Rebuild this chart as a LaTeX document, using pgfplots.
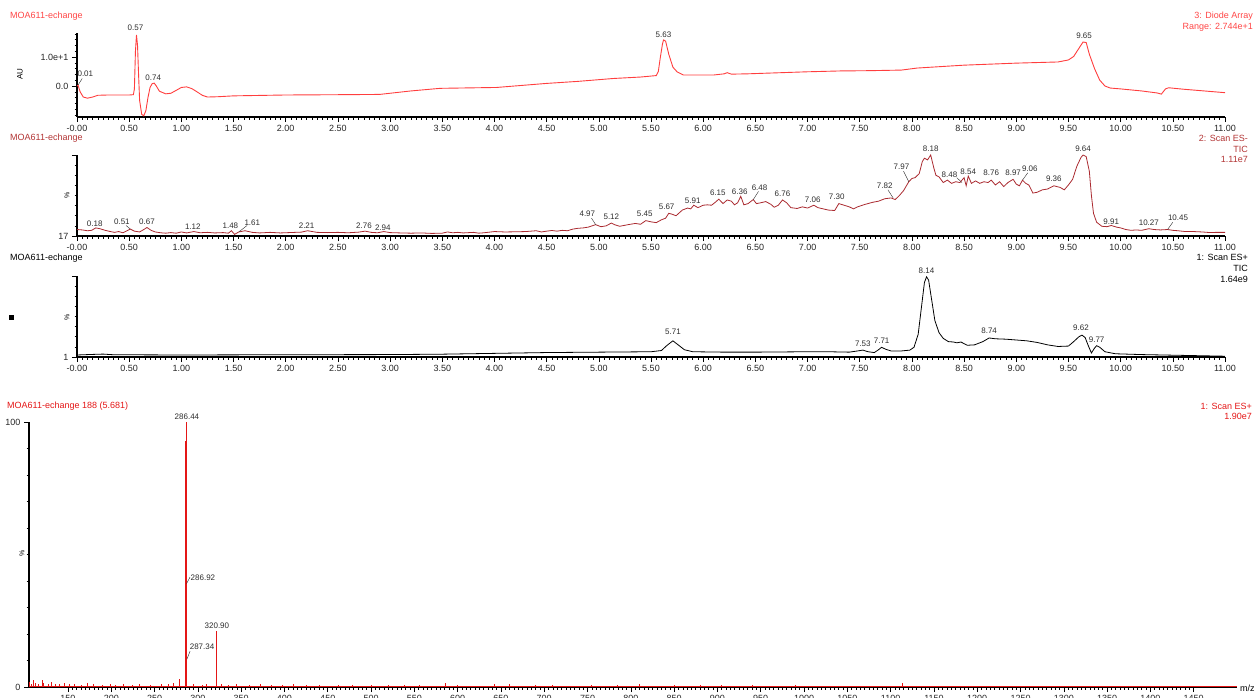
\documentclass[border=0pt]{standalone}
\usepackage{fontspec}
\setmainfont{Liberation Sans}
\usepackage{pgfplots}
\pgfplotsset{compat=1.18}
\definecolor{dared}{RGB}{255,62,62}
\definecolor{dartxt}{RGB}{255,70,70}
\definecolor{esm}{RGB}{170,42,48}
\definecolor{esmtxt}{RGB}{178,52,52}
\definecolor{spred}{RGB}{228,22,22}
\definecolor{lbl}{RGB}{45,45,45}
\pgfplotsset{
 base/.style={
  scale only axis, anchor=south west, clip=false,
  axis lines=left, axis line style={-, line width=1.1pt, black},
  tick align=outside,
  major tick length=5pt, minor tick length=2.5pt,
  tick style={black, line width=0.6pt},
  tick label style={font=\fontsize{9}{10}\selectfont, text=black!85},
 },
 chrom/.style={base,
  xmin=0, xmax=11, width=1148pt,
  xtick={0,0.5,1,1.5,2,2.5,3,3.5,4,4.5,5,5.5,6,6.5,7,7.5,8,8.5,9,9.5,10,10.5,11},
  xticklabels={-0.00,0.50,1.00,1.50,2.00,2.50,3.00,3.50,4.00,4.50,5.00,5.50,6.00,6.50,7.00,7.50,8.00,8.50,9.00,9.50,10.00,10.50,11.00},
  minor x tick num=9,
 },
}
\tikzset{txt/.style={font=\fontsize{9}{10}\selectfont, inner sep=0pt},
 pk/.style={font=\fontsize{8}{9}\selectfont, text=lbl, inner sep=0pt}}
\begin{document}
\begin{tikzpicture}
% ---------- Panel 1: Diode Array ----------
\begin{axis}[chrom, at={(77pt,-117pt)}, height=84pt, ymin=-10.7, ymax=18.3,
  ytick={0,10}, yticklabels={0.0,1.0e+1}, minor ytick={-10,-8,-6,-4,-2,2,4,6,8,12,14,16,18}]
\addplot[dared, line width=0.9pt, mark=none] coordinates {
(0.00,0) (0.01,0.3) (0.03,-2) (0.06,-3.8) (0.10,-4.2) (0.15,-3.8) (0.20,-3.2) (0.30,-3.1) (0.40,-3.1) (0.50,-3.1) (0.54,-3.0) (0.55,-1) (0.56,12) (0.57,17.6) (0.58,14) (0.59,4) (0.60,-5) (0.62,-9.8) (0.64,-10.3) (0.66,-8.5) (0.68,-4) (0.70,-0.5) (0.72,0.8) (0.74,1.0) (0.76,0) (0.79,-1.8) (0.85,-2.7) (0.90,-2.5) (0.95,-1.5) (1.00,-0.5) (1.05,-0.3) (1.10,-0.9) (1.15,-2.0) (1.20,-3.2) (1.25,-3.8) (1.35,-3.7) (1.50,-3.4) (2.00,-3.1) (2.50,-3.0) (2.90,-2.9) (3.20,-1.7) (3.48,-0.8) (4.02,-0.5) (4.50,0.9) (4.80,1.6) (5.14,2.6) (5.40,3.1) (5.55,3.6) (5.57,5) (5.59,10) (5.61,14.5) (5.62,15.9) (5.64,15.5) (5.67,11) (5.71,6.5) (5.75,4.9) (5.81,3.8) (6.10,3.8) (6.20,4.2) (6.23,4.6) (6.27,4.1) (6.42,4.2) (6.99,4.9) (7.31,5.2) (7.60,5.3) (7.90,5.5) (8.05,6.2) (8.50,7.2) (9.00,7.9) (9.40,8.3) (9.50,9) (9.55,10.2) (9.60,13) (9.64,15.2) (9.67,15) (9.70,11) (9.75,6) (9.80,2) (9.85,0) (9.90,-0.7) (10.00,-1) (10.20,-1.7) (10.35,-2.4) (10.39,-2.8) (10.43,-1) (10.46,-0.6) (10.60,-1.1) (10.80,-1.7) (11.00,-2.3)};
\draw[lbl, line width=0.4pt] (axis cs:0.01,0.3) -- (axis cs:0.05,2.6);
\node[pk] at (axis cs:0.08,4.1) {0.01};
\node[pk] at (axis cs:0.56,20.0) {0.57};
\node[pk] at (axis cs:0.73,2.9) {0.74};
\node[pk] at (axis cs:5.62,17.6) {5.63};
\node[pk] at (axis cs:9.65,17.3) {9.65};
\end{axis}
% ---------- Panel 2: ES- TIC ----------
\begin{axis}[chrom, at={(77pt,-236pt)}, height=81pt, ymin=0, ymax=100,
  ytick={0,100}, yticklabels={17,{}}, minor ytick={12.5,25,37.5,50,62.5,75,87.5}]
\addplot[esm, line width=0.8pt, mark=none] coordinates {
(0.00,8) (0.05,7.5) (0.10,6.5) (0.14,7) (0.18,10) (0.22,9) (0.27,7) (0.32,5.5) (0.36,4.5) (0.40,5.5) (0.44,4) (0.48,6.5) (0.51,8.6) (0.55,6) (0.60,5) (0.64,8) (0.67,10.5) (0.71,7) (0.75,5) (0.80,4) (0.85,3.5) (0.90,4.2) (0.95,3.5) (1.00,5) (1.05,3.8) (1.12,5.5) (1.18,4) (1.25,4.5) (1.32,3.8) (1.40,4.2) (1.45,3.5) (1.48,6.5) (1.51,2) (1.55,5) (1.61,6.5) (1.68,4.5) (1.75,3.8) (1.85,4.5) (1.95,3.8) (2.05,4.3) (2.15,4.8) (2.21,6.5) (2.30,4.5) (2.40,4.2) (2.50,4.5) (2.60,4) (2.70,4.8) (2.76,6) (2.82,4.5) (2.88,4) (2.94,5.5) (3.00,4.2) (3.10,3.8) (3.20,3.5) (3.30,3.8) (3.40,3.2) (3.50,3.5) (3.55,5) (3.60,4) (3.65,4.5) (3.70,3.8) (3.80,4.5) (3.85,3.5) (3.90,4) (4.00,5.5) (4.10,5) (4.20,5.2) (4.30,5.5) (4.40,6.5) (4.45,5) (4.50,6) (4.55,6.8) (4.60,6) (4.65,7) (4.70,6.5) (4.75,8.5) (4.80,9.5) (4.85,10) (4.90,11) (4.97,14) (5.02,11.5) (5.07,12.5) (5.12,16) (5.15,14) (5.20,12) (5.28,14) (5.35,15.5) (5.40,14.5) (5.45,19) (5.50,17.5) (5.55,16.5) (5.60,20) (5.64,22) (5.67,28) (5.70,27) (5.74,25) (5.80,32) (5.85,34.5) (5.88,33.5) (5.91,38) (5.95,35) (6.00,38) (6.04,38.5) (6.08,38) (6.11,41) (6.15,45.5) (6.19,40) (6.23,44.5) (6.27,43) (6.30,38.5) (6.33,41) (6.36,49) (6.39,38.5) (6.43,40) (6.48,45) (6.51,40) (6.55,41) (6.60,42.5) (6.65,39) (6.68,35.5) (6.72,38) (6.76,44.5) (6.80,41) (6.84,35) (6.90,34) (6.95,36) (7.00,34.5) (7.06,38) (7.10,35) (7.15,33.5) (7.20,32) (7.26,31.5) (7.30,40) (7.35,38) (7.40,36) (7.44,33.5) (7.48,36) (7.55,39) (7.62,41.5) (7.68,43) (7.74,46) (7.80,47) (7.84,45) (7.88,50) (7.92,56) (7.97,67) (8.00,71) (8.03,72) (8.07,77) (8.10,92) (8.12,96) (8.15,94) (8.18,100) (8.21,84) (8.23,75) (8.26,73) (8.30,66) (8.34,69) (8.38,65) (8.42,67) (8.46,66) (8.50,72) (8.52,62) (8.54,74) (8.57,65) (8.61,68) (8.65,65) (8.69,67) (8.73,66) (8.76,69) (8.80,63) (8.84,67) (8.88,61) (8.92,66) (8.97,70) (9.00,64) (9.03,62) (9.06,69) (9.09,65) (9.12,63) (9.16,53) (9.20,54) (9.25,57) (9.30,58) (9.36,62) (9.42,60) (9.46,57) (9.50,63) (9.54,70) (9.58,86) (9.62,97) (9.64,100) (9.67,98) (9.70,80) (9.72,50) (9.74,28) (9.77,17) (9.82,12) (9.87,11.5) (9.91,13) (9.96,11) (10.00,10) (10.05,8) (10.10,7) (10.15,7.5) (10.20,7) (10.27,9) (10.32,8) (10.38,7.5) (10.45,8) (10.50,7) (10.55,6.5) (10.62,5.5) (10.70,5.5) (10.78,5) (10.85,4.3) (10.92,4.5) (11.00,4.5)};
\draw[lbl, line width=0.4pt] (axis cs:0.51,8.6) -- (axis cs:0.47,13);
\draw[lbl, line width=0.4pt] (axis cs:1.55,5) -- (axis cs:1.63,13);
\draw[lbl, line width=0.4pt] (axis cs:4.97,14) -- (axis cs:4.93,22);
\draw[lbl, line width=0.4pt] (axis cs:6.48,45) -- (axis cs:6.53,55);
\draw[lbl, line width=0.4pt] (axis cs:7.82,47) -- (axis cs:7.77,57);
\draw[lbl, line width=0.4pt] (axis cs:7.97,67) -- (axis cs:7.92,80);
\draw[lbl, line width=0.4pt] (axis cs:8.48,66) -- (axis cs:8.43,72);
\draw[lbl, line width=0.4pt] (axis cs:9.06,69) -- (axis cs:9.11,78);
\draw[lbl, line width=0.4pt] (axis cs:10.45,8) -- (axis cs:10.50,17);
\node[pk] at (axis cs:0.17,14.8) {0.18};
\node[pk] at (axis cs:0.43,17.3) {0.51};
\node[pk] at (axis cs:0.67,17.3) {0.67};
\node[pk] at (axis cs:1.11,11.1) {1.12};
\node[pk] at (axis cs:1.47,12.3) {1.48};
\node[pk] at (axis cs:1.68,16.0) {1.61};
\node[pk] at (axis cs:2.20,12.3) {2.21};
\node[pk] at (axis cs:2.75,12.3) {2.76};
\node[pk] at (axis cs:2.93,9.9) {2.94};
\node[pk] at (axis cs:4.89,27.2) {4.97};
\node[pk] at (axis cs:5.12,23.5) {5.12};
\node[pk] at (axis cs:5.44,27.2) {5.45};
\node[pk] at (axis cs:5.65,35.8) {5.67};
\node[pk] at (axis cs:5.90,43.2) {5.91};
\node[pk] at (axis cs:6.14,53.1) {6.15};
\node[pk] at (axis cs:6.35,54.3) {6.36};
\node[pk] at (axis cs:6.54,59.3) {6.48};
\node[pk] at (axis cs:6.76,51.9) {6.76};
\node[pk] at (axis cs:7.05,44.4) {7.06};
\node[pk] at (axis cs:7.28,48.1) {7.30};
\node[pk] at (axis cs:7.74,61.7) {7.82};
\node[pk] at (axis cs:7.90,85.2) {7.97};
\node[pk] at (axis cs:8.18,107.4) {8.18};
\node[pk] at (axis cs:8.36,75.3) {8.48};
\node[pk] at (axis cs:8.54,79.0) {8.54};
\node[pk] at (axis cs:8.76,77.8) {8.76};
\node[pk] at (axis cs:8.97,77.8) {8.97};
\node[pk] at (axis cs:9.13,82.7) {9.06};
\node[pk] at (axis cs:9.36,70.4) {9.36};
\node[pk] at (axis cs:9.64,107.4) {9.64};
\node[pk] at (axis cs:9.91,17.3) {9.91};
\node[pk] at (axis cs:10.27,16.0) {10.27};
\node[pk] at (axis cs:10.55,22.2) {10.45};
\end{axis}
% ---------- Panel 3: ES+ TIC ----------
\begin{axis}[chrom, at={(77pt,-357pt)}, height=81pt, ymin=0, ymax=100,
  ytick={0,100}, yticklabels={1,{}}, minor ytick={12.5,25,37.5,50,62.5,75,87.5}]
\addplot[black, line width=0.8pt, mark=none] coordinates {
(0.00,2.5) (0.15,3.2) (0.25,3.6) (0.35,2.8) (1.00,2.5) (2.00,2.8) (3.00,3) (3.50,3.5) (4.00,4.5) (4.50,5.5) (5.00,6) (5.50,6.5) (5.60,8) (5.65,14) (5.71,20) (5.76,15) (5.82,9) (5.90,6.5) (6.20,6) (6.50,6) (7.00,6.5) (7.20,6.5) (7.40,6) (7.48,7.5) (7.53,8.5) (7.58,6.5) (7.64,5.5) (7.68,9) (7.71,12) (7.75,9.5) (7.80,7.5) (7.90,7.5) (7.98,8.5) (8.02,12) (8.06,28) (8.09,60) (8.12,92) (8.14,99) (8.16,95) (8.19,70) (8.22,45) (8.26,30) (8.30,23) (8.35,19) (8.40,18.5) (8.43,17.5) (8.47,18.5) (8.53,14.5) (8.60,15) (8.68,19) (8.74,23.5) (8.80,22.5) (8.90,22) (9.00,21) (9.10,20) (9.20,18) (9.30,15) (9.40,13) (9.50,13.5) (9.55,19) (9.60,25) (9.63,27) (9.66,24) (9.69,14) (9.72,5) (9.75,11) (9.77,14) (9.80,12) (9.85,6.5) (9.95,4) (10.2,3) (10.6,2) (11.0,1)};
\node[pk] at (axis cs:5.71,30.9) {5.71};
\node[pk] at (axis cs:7.53,16) {7.53};
\node[pk] at (axis cs:7.71,19.8) {7.71};
\node[pk] at (axis cs:8.14,106) {8.14};
\node[pk] at (axis cs:8.74,32) {8.74};
\node[pk] at (axis cs:9.62,35.8) {9.62};
\node[pk] at (axis cs:9.77,21) {9.77};
\end{axis}
% ---------- Panel 4: mass spectrum ----------
\begin{axis}[base, at={(29pt,-687pt)}, width=1208pt, height=265pt,
  xmin=105, xmax=1500, ymin=0, ymax=100,
  xtick={150,200,...,1450}, minor x tick num=9,
  ytick={0,100}, minor ytick={10,20,...,90},
  /pgf/number format/assume math mode=true, /pgf/number format/1000 sep={}]
\addplot[spred, line width=0.6pt, mark=none] coordinates {(105,0.4) (1500,0.4)};
\addplot[ycomb, spred, line width=0.9pt, mark=none] coordinates {
(106,2) (108,1.2) (110,2.5) (113,1.5) (116,1) (120,2.8) (122,1.5) (127,1) (131,1.8) (135,1.2) (140,1) (146,1.5) (152,1) (158,1.2) (165,0.8) (172,1.5) (180,1) (190,0.8) (199,1.2) (205,0.7) (214,1) (225,0.8) (233,1.2) (245,0.8) (258,1) (266,1.3) (272,1.5) (279,3.2) (286.1,93) (286.44,100) (286.92,41) (287.34,12) (295,1) (305,0.8) (310,1) (320.9,21) (321.4,11) (327,1.3) (335,0.8) (345,1) (360,0.7) (372,1) (385,0.8) (398,0.7) (410,1) (425,0.8) (440,0.8) (462,0.7) (478,0.9) (500,0.8) (520,0.7) (538,0.9) (556,0.8) (586,1.6) (600,0.8) (643,1.3) (660,1.3) (690,0.6) (710,0.7) (755,0.7) (785,0.8) (810,1.2) (850,0.6) (880,0.6) (905,0.9) (940,0.6) (990,0.6) (1030,0.5) (1114,1.5) (1200,0.5) (1260,0.5) (1350,0.5) (1420,0.5)};
\draw[lbl, line width=0.4pt] (axis cs:286.9,39) -- (axis cs:291,41.5);
\draw[lbl, line width=0.4pt] (axis cs:287.3,10.5) -- (axis cs:291,13.5);
\node[pk] at (axis cs:287.4,101.9) {286.44};
\node[pk, anchor=west] at (axis cs:291.5,41.1) {286.92};
\node[pk] at (axis cs:322,23) {320.90};
\node[pk, anchor=west] at (axis cs:290.5,15.1) {287.34};
\end{axis}
% ---------- titles and side texts ----------
\node[txt, anchor=west, text=dartxt] at (10pt,-16pt) {MOA611-echange};
\node[txt, anchor=east, text=dartxt] at (1253pt,-16pt) {3: Diode Array};
\node[txt, anchor=east, text=dartxt] at (1253pt,-27pt) {Range: 2.744e+1};
\node[txt, anchor=center, rotate=90, font=\fontsize{8}{9}\selectfont] at (20pt,-74pt) {AU};
\node[txt, anchor=west, text=esmtxt] at (10pt,-138pt) {MOA611-echange};
\node[txt, anchor=east, text=esmtxt] at (1248pt,-138.5pt) {2: Scan ES-};
\node[txt, anchor=east, text=esmtxt] at (1248pt,-149pt) {TIC};
\node[txt, anchor=east, text=esmtxt] at (1248pt,-159.5pt) {1.11e7};
\node[txt, anchor=center, rotate=90, font=\fontsize{7}{8}\selectfont] at (67pt,-195pt) {\%};
\node[txt, anchor=west] at (10pt,-258pt) {MOA611-echange};
\node[txt, anchor=east] at (1248pt,-257pt) {1: Scan ES+};
\node[txt, anchor=east] at (1248pt,-268pt) {TIC};
\node[txt, anchor=east] at (1248pt,-279pt) {1.64e9};
\node[txt, anchor=center, rotate=90, font=\fontsize{7}{8}\selectfont] at (67pt,-317pt) {\%};
\node[fill=black, minimum size=5pt, inner sep=0pt] at (11pt,-317pt) {};
\node[txt, anchor=west, text=spred] at (7pt,-406pt) {MOA611-echange 188 (5.681)};
\node[txt, anchor=east, text=spred] at (1252pt,-406pt) {1: Scan ES+};
\node[txt, anchor=east, text=spred] at (1252pt,-416pt) {1.90e7};
\node[txt, anchor=center, rotate=90, font=\fontsize{7}{8}\selectfont] at (22pt,-553pt) {\%};
\node[txt, anchor=west] at (1240pt,-688pt) {m/z};
\pgfresetboundingbox
\useasboundingbox (0pt,0pt) rectangle (1258pt,-697pt);
\end{tikzpicture}
\end{document}
